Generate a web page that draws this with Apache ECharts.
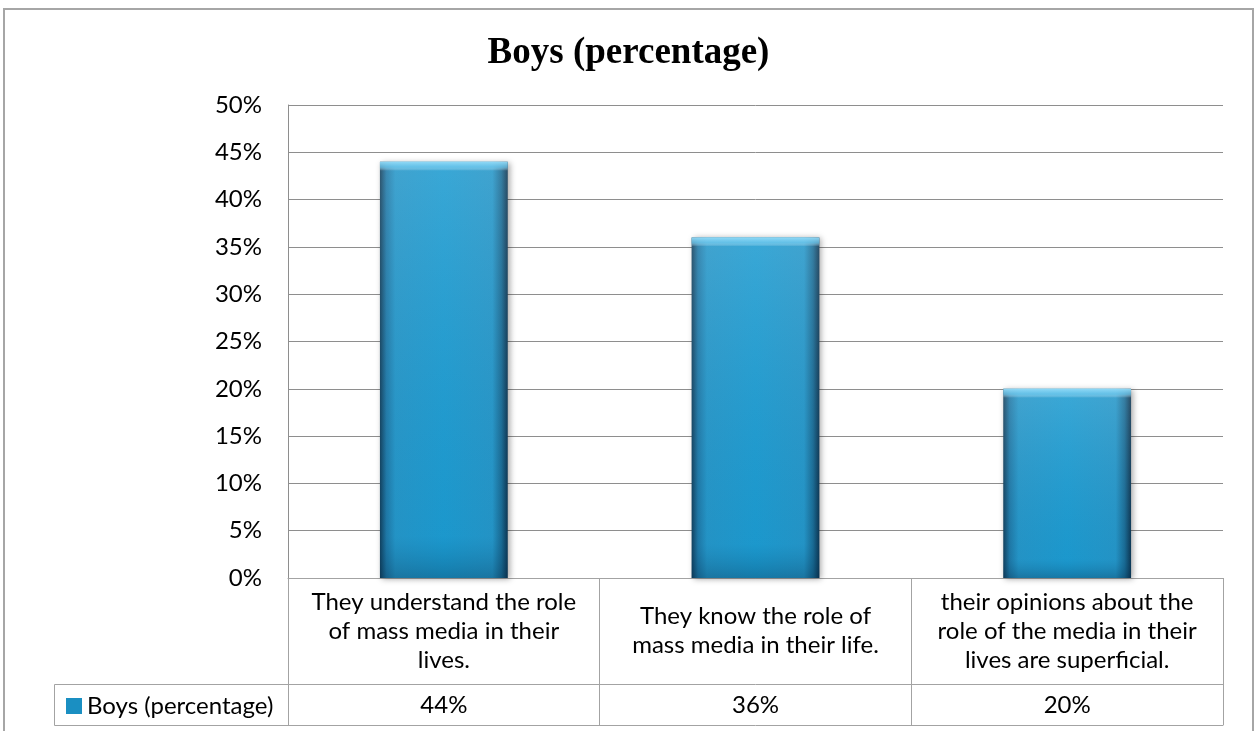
<!DOCTYPE html>
<html>
<head>
<meta charset="utf-8">
<script src="https://cdn.jsdelivr.net/npm/echarts@6/dist/echarts.min.js"></script>
<style>
html,body{margin:0;padding:0;background:#fff;}
#chart{width:1257px;height:731px;}
</style>
</head>
<body>
<div id="chart"></div>
<script>
var titleText = 'Boys (percentage)';
var seriesName = 'Boys (percentage)';
var categories = [
  'They understand the role\nof mass media in their\nlives.',
  'They know the role of\nmass media in their life.',
  'their opinions about the\nrole of the media in their\nlives are superficial.'
];
var boysValues = [44, 36, 20];
var yTicks = {min: 0, max: 50, interval: 5};

var FONT = 'Lato';
var FS = 24;
var tableColor = '#a3a3a3';
var gridColor = '#8e8e8e';
var plotTop = 105, plotBottom = 578;

var chart = echarts.init(document.getElementById('chart'));
var valueLabels = boysValues.map(function (v) { return v + '%'; });

var barGradient = new echarts.graphic.LinearGradient(0, 0, 1, 0, [
  {offset: 0, color: '#123f5c'},
  {offset: 0.05, color: '#1f78a6'},
  {offset: 0.12, color: '#2596c8'},
  {offset: 0.5, color: '#1d9bd0'},
  {offset: 0.88, color: '#2596c8'},
  {offset: 0.95, color: '#1a6b94'},
  {offset: 1, color: '#0d3450'}
]);

// overlay: light top bevel (constant pixel thickness) + vertical shading
var pxPerUnit = (plotBottom - plotTop) / (yTicks.max - yTicks.min);
var overlayData = boysValues.map(function (v) {
  var h = v * pxPerUnit;
  var cap = 9 / h;
  return {
    value: v,
    itemStyle: {
      color: new echarts.graphic.LinearGradient(0, 0, 0, 1, [
        {offset: 0, color: 'rgba(150,220,248,0.95)'},
        {offset: cap * 0.6, color: 'rgba(120,205,240,0.75)'},
        {offset: cap, color: 'rgba(255,255,255,0.12)'},
        {offset: 0.9, color: 'rgba(0,90,140,0.05)'},
        {offset: 1, color: 'rgba(0,40,70,0.3)'}
      ])
    }
  };
});

var option = {
  backgroundColor: '#fff',
  animation: false,
  title: {
    text: titleText,
    left: 'center',
    top: 30,
    textStyle: {fontFamily: 'Liberation Serif', fontWeight: 'bold', fontSize: 37, color: '#000'}
  },
  legend: {
    left: 61, top: 689,
    itemWidth: 16, itemHeight: 16, icon: 'rect',
    data: [{name: seriesName, itemStyle: {color: '#1a8fc2'}}],
    textStyle: {fontFamily: FONT, fontSize: FS, color: '#000'},
    itemGap: 6
  },
  grid: {left: 288, right: 34, top: plotTop, bottom: 731 - plotBottom, containLabel: false},
  xAxis: [{
    type: 'category',
    data: categories,
    position: 'bottom',
    boundaryGap: true,
    axisLine: {show: true, lineStyle: {color: tableColor, width: 1}},
    axisTick: {show: true, interval: 0, length: 147, lineStyle: {color: tableColor, width: 1}},
    axisLabel: {
      interval: 0, margin: 53, verticalAlign: 'middle', align: 'center',
      fontFamily: FONT, fontSize: FS, lineHeight: 29, color: '#000'
    }
  }, {
    type: 'category',
    data: valueLabels,
    position: 'bottom',
    offset: 106,
    boundaryGap: true,
    axisLine: {show: true, lineStyle: {color: tableColor, width: 1}},
    axisTick: {show: false},
    axisLabel: {interval: 0, margin: 21, verticalAlign: 'middle', fontFamily: FONT, fontSize: FS, color: '#000'}
  }, {
    type: 'category',
    data: valueLabels,
    position: 'bottom',
    offset: 147,
    boundaryGap: true,
    axisLine: {show: true, lineStyle: {color: tableColor, width: 1}},
    axisTick: {show: false},
    axisLabel: {show: false}
  }],
  yAxis: {
    type: 'value',
    min: yTicks.min, max: yTicks.max, interval: yTicks.interval,
    axisLine: {show: true, lineStyle: {color: gridColor}},
    axisTick: {show: false},
    splitLine: {show: true, lineStyle: {color: gridColor, width: 1}},
    axisLabel: {formatter: '{value}%', margin: 26, fontFamily: FONT, fontSize: FS, color: '#000'}
  },
  series: [{
    name: seriesName,
    type: 'bar',
    xAxisIndex: 0,
    data: boysValues,
    barWidth: '41%',
    z: 2,
    itemStyle: {
      color: barGradient,
      shadowBlur: 6,
      shadowColor: 'rgba(0,0,0,0.35)',
      shadowOffsetX: 2,
      shadowOffsetY: 1
    }
  }, {
    name: 'overlay',
    type: 'bar',
    xAxisIndex: 0,
    data: overlayData,
    barWidth: '41%',
    barGap: '-100%',
    z: 3,
    silent: true
  }],
  graphic: [{
    type: 'rect',
    shape: {x: 4, y: 9, width: 1249, height: 760},
    style: {fill: 'none', stroke: '#a6a6a6', lineWidth: 2},
    silent: true, z: -1
  }, {
    type: 'polyline',
    shape: {points: [[288, 684.5], [54.5, 684.5], [54.5, 725.5], [288, 725.5]]},
    style: {fill: 'none', stroke: tableColor, lineWidth: 1},
    silent: true
  }]
};
chart.setOption(option);
</script>
</body>
</html>
